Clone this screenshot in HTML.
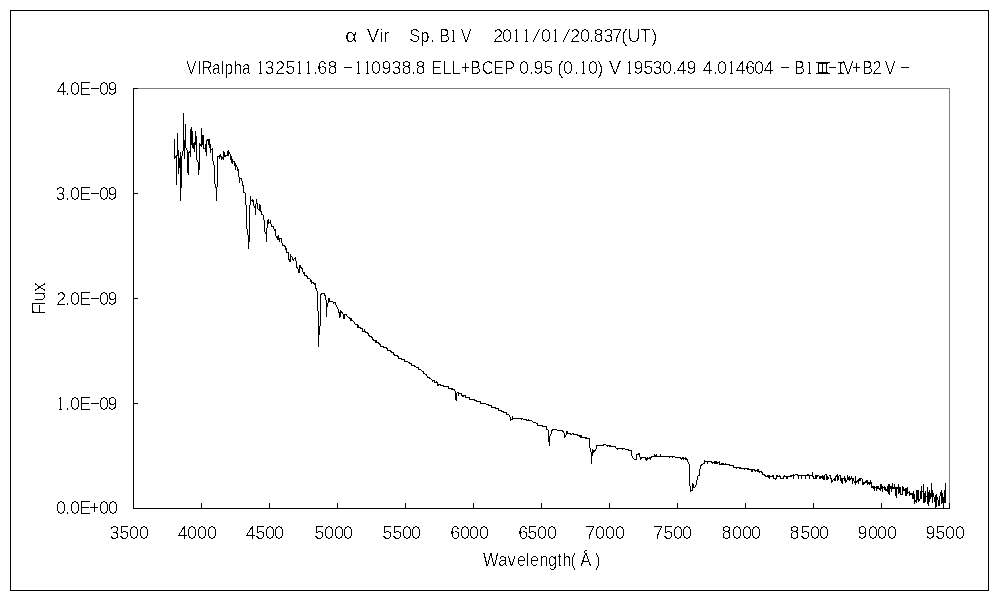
<!DOCTYPE html>
<html lang="ja">
<head>
<meta charset="utf-8">
<title>α Vir Sp. B1V 2011/01/20.837(UT)</title>
<style>
html,body{margin:0;padding:0;background:#fff;}
body{width:1000px;height:600px;overflow:hidden;}
svg{display:block;}
text{font-family:'Liberation Sans', 'Noto Sans CJK JP', sans-serif;font-size:18px;fill:#000;}
</style>
</head>
<body>
<svg width="1000" height="600" viewBox="0 0 1000 600">
<rect x="0" y="0" width="1000" height="600" fill="#fff"/>
<g shape-rendering="crispEdges">
<rect x="10" y="10" width="979" height="1" fill="#000"/>
<rect x="10" y="590" width="979" height="1" fill="#000"/>
<rect x="10" y="10" width="1" height="581" fill="#000"/>
<rect x="988" y="10" width="1" height="581" fill="#000"/>
<rect x="133" y="88" width="817" height="1" fill="#808080"/>
<rect x="949" y="88" width="1" height="421" fill="#808080"/>
<rect x="133" y="88" width="1" height="421" fill="#000"/>
<rect x="133" y="508" width="817" height="1" fill="#000"/>
<rect x="134" y="88" width="4" height="1" fill="#000"/>
<rect x="134" y="193" width="4" height="1" fill="#000"/>
<rect x="134" y="298" width="4" height="1" fill="#000"/>
<rect x="134" y="403" width="4" height="1" fill="#000"/>
<rect x="134" y="508" width="4" height="1" fill="#000"/>
<rect x="133" y="503" width="1" height="5" fill="#000"/>
<rect x="201" y="503" width="1" height="5" fill="#000"/>
<rect x="269" y="503" width="1" height="5" fill="#000"/>
<rect x="337" y="503" width="1" height="5" fill="#000"/>
<rect x="405" y="503" width="1" height="5" fill="#000"/>
<rect x="473" y="503" width="1" height="5" fill="#000"/>
<rect x="541" y="503" width="1" height="5" fill="#000"/>
<rect x="609" y="503" width="1" height="5" fill="#000"/>
<rect x="677" y="503" width="1" height="5" fill="#000"/>
<rect x="745" y="503" width="1" height="5" fill="#000"/>
<rect x="813" y="503" width="1" height="5" fill="#000"/>
<rect x="881" y="503" width="1" height="5" fill="#000"/>
<rect x="949" y="503" width="1" height="5" fill="#000"/>
<path d="M174 139h1v20h-1zM175 156h1v2h-1zM176 155h1v30h-1zM177 133h1v23h-1zM178 150h1v24h-1zM179 158h1v10h-1zM180 152h1v49h-1zM181 156h1v32h-1zM182 151h1v5h-1zM183 113h1v38h-1zM184 140h1v19h-1zM185 124h1v24h-1zM186 148h1v2h-1zM187 150h1v23h-1zM188 152h1v23h-1zM189 151h1v2h-1zM190 129h1v28h-1zM191 127h1v18h-1zM192 131h1v17h-1zM193 143h1v6h-1zM194 142h1v10h-1zM195 131h1v14h-1zM196 136h1v24h-1zM197 160h1v2h-1zM198 162h1v13h-1zM199 143h1v27h-1zM200 144h1v2h-1zM201 128h1v19h-1zM202 135h1v10h-1zM203 135h1v14h-1zM204 148h1v1h-1zM205 144h1v8h-1zM206 140h1v16h-1zM207 139h1v2h-1zM208 139h1v6h-1zM209 139h1v9h-1zM210 144h1v9h-1zM211 149h1v1h-1zM212 148h1v13h-1zM213 161h1v4h-1zM214 165h1v19h-1zM215 184h1v4h-1zM216 187h1v14h-1zM217 156h1v31h-1zM218 156h1v1h-1zM219 155h1v4h-1zM220 154h1v3h-1zM221 156h1v4h-1zM222 157h1v2h-1zM223 151h1v9h-1zM224 152h1v5h-1zM225 155h1v2h-1zM226 155h1v1h-1zM227 151h1v5h-1zM228 150h1v6h-1zM229 152h1v2h-1zM230 154h1v6h-1zM231 156h1v7h-1zM232 159h1v5h-1zM233 161h1v1h-1zM234 161h1v5h-1zM235 163h1v7h-1zM236 165h1v2h-1zM237 167h1v4h-1zM238 169h1v8h-1zM239 177h1v6h-1zM240 178h1v1h-1zM241 178h1v3h-1zM242 181h1v5h-1zM243 185h1v8h-1zM244 192h1v1h-1zM245 193h1v12h-1zM246 205h1v24h-1zM247 229h1v6h-1zM248 235h1v14h-1zM249 205h1v37h-1zM250 196h1v9h-1zM251 200h1v1h-1zM252 199h1v3h-1zM253 200h1v6h-1zM254 206h1v2h-1zM255 204h1v11h-1zM256 199h1v5h-1zM257 203h1v6h-1zM258 209h1v1h-1zM259 204h1v7h-1zM260 205h1v7h-1zM261 211h1v4h-1zM262 214h1v1h-1zM263 215h1v5h-1zM264 220h1v12h-1zM265 232h1v2h-1zM266 228h1v14h-1zM267 220h1v8h-1zM268 219h1v5h-1zM269 222h1v1h-1zM270 220h1v4h-1zM271 224h1v3h-1zM272 226h1v1h-1zM273 226h1v3h-1zM274 229h1v2h-1zM275 229h1v7h-1zM276 236h1v2h-1zM277 236h1v4h-1zM278 235h1v5h-1zM279 238h1v4h-1zM280 238h1v1h-1zM281 238h1v5h-1zM282 243h1v3h-1zM283 245h1v1h-1zM284 245h1v2h-1zM285 246h1v4h-1zM286 248h1v5h-1zM287 252h1v1h-1zM288 252h1v8h-1zM289 259h1v3h-1zM290 254h1v8h-1zM291 256h1v1h-1zM292 257h1v3h-1zM293 259h1v2h-1zM294 258h1v1h-1zM295 257h1v4h-1zM296 261h1v7h-1zM297 267h1v2h-1zM298 269h1v4h-1zM299 265h1v8h-1zM300 265h1v3h-1zM301 267h1v2h-1zM302 268h1v4h-1zM303 272h1v2h-1zM304 272h1v4h-1zM305 275h1v1h-1zM306 275h1v2h-1zM307 276h1v3h-1zM308 278h1v1h-1zM309 278h1v1h-1zM310 279h1v3h-1zM311 280h1v4h-1zM312 282h1v1h-1zM313 282h1v2h-1zM314 283h1v2h-1zM315 283h1v6h-1zM316 288h1v3h-1zM317 291h1v20h-1zM318 311h1v36h-1zM319 326h1v9h-1zM320 294h1v32h-1zM321 293h1v2h-1zM322 293h1v1h-1zM323 293h1v1h-1zM324 293h1v3h-1zM325 295h1v5h-1zM326 300h1v17h-1zM327 303h1v4h-1zM328 298h1v5h-1zM329 298h1v4h-1zM330 301h1v1h-1zM331 301h1v1h-1zM332 301h1v1h-1zM333 302h1v2h-1zM334 302h1v1h-1zM335 302h1v3h-1zM336 305h1v2h-1zM337 307h1v2h-1zM338 309h1v4h-1zM339 312h1v6h-1zM340 310h1v7h-1zM341 311h1v2h-1zM342 312h1v2h-1zM343 314h1v5h-1zM344 314h1v5h-1zM345 314h1v1h-1zM346 314h1v2h-1zM347 316h1v1h-1zM348 317h1v1h-1zM349 317h1v2h-1zM350 318h1v3h-1zM351 318h1v3h-1zM352 320h1v1h-1zM353 321h1v1h-1zM354 322h1v2h-1zM355 324h1v1h-1zM356 324h1v1h-1zM357 324h1v4h-1zM358 325h1v3h-1zM359 327h1v1h-1zM360 327h1v2h-1zM361 328h1v1h-1zM362 328h1v4h-1zM363 331h1v1h-1zM364 329h1v3h-1zM365 331h1v2h-1zM366 332h1v1h-1zM367 332h1v2h-1zM368 333h1v3h-1zM369 335h1v2h-1zM370 336h1v1h-1zM371 336h1v2h-1zM372 337h1v3h-1zM373 339h1v2h-1zM374 340h1v1h-1zM375 340h1v3h-1zM376 340h1v3h-1zM377 342h1v1h-1zM378 342h1v2h-1zM379 343h1v2h-1zM380 344h1v3h-1zM381 346h1v1h-1zM382 346h1v1h-1zM383 346h1v2h-1zM384 347h1v1h-1zM385 347h1v1h-1zM386 347h1v2h-1zM387 348h1v3h-1zM388 350h1v1h-1zM389 350h1v1h-1zM390 350h1v2h-1zM391 351h1v2h-1zM392 352h1v1h-1zM393 352h1v3h-1zM394 354h1v2h-1zM395 355h1v1h-1zM396 355h1v1h-1zM397 355h1v2h-1zM398 356h1v3h-1zM399 358h1v1h-1zM400 358h1v1h-1zM401 358h1v2h-1zM402 359h1v1h-1zM403 359h1v1h-1zM404 359h1v3h-1zM405 361h1v1h-1zM406 361h1v1h-1zM407 361h1v1h-1zM408 362h1v1h-1zM409 362h1v2h-1zM410 363h1v1h-1zM411 363h1v3h-1zM412 365h1v1h-1zM413 365h1v1h-1zM414 365h1v2h-1zM415 366h1v1h-1zM416 367h1v1h-1zM417 367h1v1h-1zM418 367h1v3h-1zM419 369h1v1h-1zM420 369h1v1h-1zM421 370h1v1h-1zM422 371h1v1h-1zM423 371h1v3h-1zM424 373h1v1h-1zM425 374h1v1h-1zM426 374h1v2h-1zM427 376h1v2h-1zM428 377h1v1h-1zM429 377h1v2h-1zM430 378h1v1h-1zM431 379h1v1h-1zM432 380h1v2h-1zM433 380h1v1h-1zM434 380h1v3h-1zM435 382h1v1h-1zM436 381h1v2h-1zM437 382h1v4h-1zM438 384h1v2h-1zM439 384h1v1h-1zM440 384h1v2h-1zM441 385h1v1h-1zM442 385h1v1h-1zM443 385h1v2h-1zM444 386h1v1h-1zM445 386h1v1h-1zM446 386h1v1h-1zM447 386h1v1h-1zM448 386h1v3h-1zM449 388h1v1h-1zM450 388h1v1h-1zM451 388h1v2h-1zM452 388h1v2h-1zM453 389h1v1h-1zM454 389h1v2h-1zM455 391h1v9h-1zM456 393h1v8h-1zM457 392h1v1h-1zM458 392h1v4h-1zM459 393h1v1h-1zM460 393h1v1h-1zM461 393h1v3h-1zM462 395h1v2h-1zM463 395h1v2h-1zM464 395h1v1h-1zM465 395h1v3h-1zM466 397h1v1h-1zM467 397h1v1h-1zM468 397h1v1h-1zM469 397h1v3h-1zM470 399h1v1h-1zM471 399h1v1h-1zM472 399h1v1h-1zM473 399h1v1h-1zM474 399h1v2h-1zM475 400h1v1h-1zM476 400h1v2h-1zM477 401h1v1h-1zM478 401h1v1h-1zM479 401h1v1h-1zM480 401h1v3h-1zM481 403h1v1h-1zM482 403h1v1h-1zM483 403h1v1h-1zM484 403h1v1h-1zM485 403h1v1h-1zM486 404h1v1h-1zM487 404h1v1h-1zM488 404h1v2h-1zM489 405h1v1h-1zM490 405h1v1h-1zM491 405h1v3h-1zM492 407h1v1h-1zM493 407h1v1h-1zM494 407h1v1h-1zM495 407h1v2h-1zM496 408h1v1h-1zM497 408h1v1h-1zM498 408h1v3h-1zM499 410h1v1h-1zM500 410h1v1h-1zM501 410h1v2h-1zM502 411h1v1h-1zM503 411h1v2h-1zM504 412h1v1h-1zM505 412h1v1h-1zM506 412h1v3h-1zM507 414h1v1h-1zM508 414h1v1h-1zM509 415h1v2h-1zM510 417h1v4h-1zM511 419h1v1h-1zM512 416h1v4h-1zM513 418h1v1h-1zM514 418h1v1h-1zM515 418h1v1h-1zM516 418h1v1h-1zM517 418h1v1h-1zM518 418h1v1h-1zM519 418h1v1h-1zM520 418h1v1h-1zM521 418h1v2h-1zM522 418h1v1h-1zM523 419h1v1h-1zM524 419h1v1h-1zM525 419h1v1h-1zM526 419h1v2h-1zM527 420h1v1h-1zM528 419h1v2h-1zM529 420h1v1h-1zM530 420h1v1h-1zM531 420h1v1h-1zM532 421h1v1h-1zM533 422h1v1h-1zM534 422h1v1h-1zM535 422h1v1h-1zM536 423h1v1h-1zM537 423h1v3h-1zM538 425h1v1h-1zM539 425h1v1h-1zM540 425h1v1h-1zM541 425h1v1h-1zM542 425h1v2h-1zM543 426h1v1h-1zM544 426h1v1h-1zM545 426h1v1h-1zM546 426h1v4h-1zM547 429h1v1h-1zM548 430h1v12h-1zM549 436h1v10h-1zM550 434h1v2h-1zM551 430h1v4h-1zM552 429h1v2h-1zM553 429h1v1h-1zM554 429h1v1h-1zM555 429h1v1h-1zM556 429h1v1h-1zM557 430h1v1h-1zM558 430h1v1h-1zM559 430h1v1h-1zM560 430h1v1h-1zM561 430h1v1h-1zM562 430h1v2h-1zM563 431h1v2h-1zM564 433h1v5h-1zM565 435h1v2h-1zM566 431h1v4h-1zM567 431h1v3h-1zM568 433h1v1h-1zM569 433h1v1h-1zM570 433h1v2h-1zM571 434h1v1h-1zM572 433h1v1h-1zM573 433h1v2h-1zM574 434h1v1h-1zM575 434h1v1h-1zM576 434h1v1h-1zM577 434h1v2h-1zM578 435h1v1h-1zM579 435h1v2h-1zM580 435h1v3h-1zM581 435h1v3h-1zM582 437h1v1h-1zM583 437h1v1h-1zM584 437h1v1h-1zM585 437h1v2h-1zM586 437h1v2h-1zM587 438h1v1h-1zM588 438h1v1h-1zM589 438h1v10h-1zM590 448h1v4h-1zM591 452h1v12h-1zM592 449h1v7h-1zM593 450h1v3h-1zM594 450h1v2h-1zM595 449h1v2h-1zM596 445h1v4h-1zM597 445h1v1h-1zM598 445h1v1h-1zM599 445h1v1h-1zM600 445h1v1h-1zM601 445h1v1h-1zM602 445h1v1h-1zM603 444h1v2h-1zM604 444h1v1h-1zM605 444h1v1h-1zM606 445h1v1h-1zM607 445h1v2h-1zM608 445h1v1h-1zM609 445h1v2h-1zM610 445h1v2h-1zM611 446h1v1h-1zM612 446h1v1h-1zM613 446h1v1h-1zM614 446h1v1h-1zM615 446h1v2h-1zM616 448h1v1h-1zM617 448h1v2h-1zM618 448h1v1h-1zM619 448h1v1h-1zM620 448h1v1h-1zM621 448h1v1h-1zM622 448h1v2h-1zM623 448h1v1h-1zM624 448h1v1h-1zM625 449h1v1h-1zM626 449h1v1h-1zM627 449h1v1h-1zM628 449h1v2h-1zM629 450h1v1h-1zM630 450h1v1h-1zM631 450h1v6h-1zM632 456h1v2h-1zM633 458h1v1h-1zM634 459h1v1h-1zM635 459h1v1h-1zM636 454h1v6h-1zM637 454h1v1h-1zM638 453h1v2h-1zM639 453h1v4h-1zM640 457h1v3h-1zM641 457h1v2h-1zM642 457h1v1h-1zM643 457h1v1h-1zM644 457h1v1h-1zM645 457h1v3h-1zM646 458h1v3h-1zM647 457h1v3h-1zM648 458h1v1h-1zM649 457h1v2h-1zM650 457h1v3h-1zM651 456h1v2h-1zM652 456h1v1h-1zM653 456h1v1h-1zM654 454h1v3h-1zM655 455h1v2h-1zM656 454h1v3h-1zM657 456h1v1h-1zM658 456h1v1h-1zM659 456h1v1h-1zM660 454h1v3h-1zM661 456h1v1h-1zM662 456h1v1h-1zM663 456h1v1h-1zM664 456h1v1h-1zM665 456h1v1h-1zM666 456h1v1h-1zM667 456h1v1h-1zM668 456h1v1h-1zM669 456h1v2h-1zM670 456h1v1h-1zM671 456h1v1h-1zM672 456h1v2h-1zM673 456h1v1h-1zM674 456h1v1h-1zM675 457h1v1h-1zM676 457h1v1h-1zM677 457h1v1h-1zM678 457h1v1h-1zM679 457h1v1h-1zM680 457h1v2h-1zM681 458h1v2h-1zM682 457h1v2h-1zM683 457h1v3h-1zM684 458h1v1h-1zM685 457h1v3h-1zM686 458h1v2h-1zM687 459h1v3h-1zM688 462h1v2h-1zM689 464h1v22h-1zM690 486h1v6h-1zM691 490h1v1h-1zM692 483h1v8h-1zM693 484h1v4h-1zM694 487h1v1h-1zM695 485h1v2h-1zM696 480h1v5h-1zM697 476h1v4h-1zM698 475h1v1h-1zM699 469h1v7h-1zM700 465h1v4h-1zM701 464h1v2h-1zM702 464h1v1h-1zM703 463h1v1h-1zM704 460h1v4h-1zM705 461h1v1h-1zM706 461h1v1h-1zM707 461h1v3h-1zM708 461h1v1h-1zM709 461h1v1h-1zM710 461h1v1h-1zM711 461h1v2h-1zM712 462h1v2h-1zM713 462h1v1h-1zM714 461h1v3h-1zM715 461h1v3h-1zM716 461h1v3h-1zM717 462h1v2h-1zM718 462h1v1h-1zM719 461h1v4h-1zM720 464h1v1h-1zM721 463h1v2h-1zM722 463h1v2h-1zM723 463h1v2h-1zM724 464h1v1h-1zM725 463h1v2h-1zM726 464h1v1h-1zM727 464h1v1h-1zM728 464h1v1h-1zM729 464h1v2h-1zM730 465h1v1h-1zM731 465h1v1h-1zM732 465h1v1h-1zM733 465h1v3h-1zM734 467h1v1h-1zM735 467h1v1h-1zM736 467h1v2h-1zM737 467h1v1h-1zM738 467h1v1h-1zM739 467h1v2h-1zM740 467h1v2h-1zM741 468h1v1h-1zM742 468h1v1h-1zM743 468h1v1h-1zM744 468h1v2h-1zM745 468h1v1h-1zM746 468h1v1h-1zM747 468h1v2h-1zM748 468h1v2h-1zM749 469h1v1h-1zM750 469h1v1h-1zM751 469h1v3h-1zM752 469h1v3h-1zM753 469h1v1h-1zM754 469h1v2h-1zM755 470h1v2h-1zM756 470h1v1h-1zM757 469h1v3h-1zM758 469h1v3h-1zM759 471h1v2h-1zM760 471h1v1h-1zM761 471h1v2h-1zM762 472h1v3h-1zM763 474h1v1h-1zM764 474h1v2h-1zM765 475h1v2h-1zM766 476h1v1h-1zM767 475h1v2h-1zM768 475h1v3h-1zM769 475h1v4h-1zM770 476h1v1h-1zM771 476h1v1h-1zM772 475h1v2h-1zM773 475h1v4h-1zM774 478h1v1h-1zM775 478h1v2h-1zM776 475h1v4h-1zM777 475h1v2h-1zM778 476h1v1h-1zM779 475h1v2h-1zM780 476h1v3h-1zM781 478h1v1h-1zM782 478h1v1h-1zM783 476h1v3h-1zM784 475h1v2h-1zM785 476h1v1h-1zM786 476h1v3h-1zM787 476h1v3h-1zM788 476h1v1h-1zM789 476h1v1h-1zM790 475h1v2h-1zM791 475h1v2h-1zM792 475h1v1h-1zM793 474h1v5h-1zM794 475h1v1h-1zM795 474h1v1h-1zM796 474h1v1h-1zM797 474h1v2h-1zM798 475h1v4h-1zM799 475h1v1h-1zM800 475h1v1h-1zM801 475h1v4h-1zM802 475h1v1h-1zM803 475h1v1h-1zM804 475h1v1h-1zM805 475h1v4h-1zM806 475h1v1h-1zM807 474h1v2h-1zM808 474h1v2h-1zM809 475h1v4h-1zM810 475h1v1h-1zM811 475h1v1h-1zM812 472h1v5h-1zM813 476h1v3h-1zM814 478h1v1h-1zM815 475h1v4h-1zM816 475h1v4h-1zM817 475h1v2h-1zM818 475h1v1h-1zM819 476h1v3h-1zM820 476h1v3h-1zM821 476h1v2h-1zM822 475h1v4h-1zM823 476h1v4h-1zM824 475h1v5h-1zM825 474h1v1h-1zM826 474h1v6h-1zM827 476h1v4h-1zM828 477h1v2h-1zM829 475h1v1h-1zM830 475h1v4h-1zM831 478h1v5h-1zM832 480h1v2h-1zM833 479h1v1h-1zM834 478h1v3h-1zM835 476h1v5h-1zM836 475h1v2h-1zM837 474h1v7h-1zM838 476h1v4h-1zM839 475h1v1h-1zM840 475h1v6h-1zM841 478h1v5h-1zM842 478h1v6h-1zM843 478h1v1h-1zM844 476h1v5h-1zM845 478h1v5h-1zM846 480h1v2h-1zM847 475h1v5h-1zM848 477h1v3h-1zM849 476h1v5h-1zM850 478h1v2h-1zM851 476h1v3h-1zM852 478h1v6h-1zM853 478h1v3h-1zM854 481h1v2h-1zM855 476h1v9h-1zM856 481h1v2h-1zM857 480h1v2h-1zM858 479h1v5h-1zM859 478h1v3h-1zM860 478h1v3h-1zM861 478h1v1h-1zM862 479h1v6h-1zM863 482h1v3h-1zM864 482h1v2h-1zM865 481h1v2h-1zM866 480h1v3h-1zM867 480h1v5h-1zM868 482h1v2h-1zM869 482h1v3h-1zM870 480h1v4h-1zM871 482h1v6h-1zM872 486h1v2h-1zM873 486h1v3h-1zM874 486h1v5h-1zM875 487h1v1h-1zM876 486h1v5h-1zM877 486h1v3h-1zM878 486h1v3h-1zM879 488h1v2h-1zM880 484h1v7h-1zM881 484h1v5h-1zM882 486h1v6h-1zM883 487h1v1h-1zM884 486h1v4h-1zM885 487h1v4h-1zM886 489h1v2h-1zM887 486h1v6h-1zM888 484h1v10h-1zM889 484h1v11h-1zM890 486h1v3h-1zM891 486h1v6h-1zM892 483h1v6h-1zM893 487h1v2h-1zM894 484h1v5h-1zM895 487h1v9h-1zM896 487h1v11h-1zM897 487h1v2h-1zM898 484h1v10h-1zM899 487h1v6h-1zM900 487h1v8h-1zM901 494h1v1h-1zM902 486h1v9h-1zM903 487h1v4h-1zM904 489h1v2h-1zM905 488h1v8h-1zM906 488h1v8h-1zM907 487h1v7h-1zM908 492h1v1h-1zM909 491h1v5h-1zM910 493h1v2h-1zM911 493h1v2h-1zM912 493h1v6h-1zM913 491h1v8h-1zM914 494h1v10h-1zM915 500h1v2h-1zM916 490h1v13h-1zM917 490h1v10h-1zM918 490h1v12h-1zM919 499h1v2h-1zM920 491h1v8h-1zM921 486h1v13h-1zM922 491h1v1h-1zM923 484h1v19h-1zM924 493h1v10h-1zM925 491h1v11h-1zM926 496h1v1h-1zM927 487h1v17h-1zM928 492h1v14h-1zM929 490h1v12h-1zM930 493h1v6h-1zM931 483h1v14h-1zM932 490h1v13h-1zM933 493h1v4h-1zM934 497h1v5h-1zM935 495h1v13h-1zM936 494h1v13h-1zM937 497h1v3h-1zM938 500h1v6h-1zM939 496h1v10h-1zM940 492h1v4h-1zM941 490h1v14h-1zM942 493h1v10h-1zM943 497h1v11h-1zM944 490h1v13h-1zM945 483h1v20h-1z" fill="#000"/>
</g>
<defs><filter id="bin" x="0" y="0" width="1000" height="600" filterUnits="userSpaceOnUse" color-interpolation-filters="sRGB"><feColorMatrix type="matrix" values="0 0 0 0 0  0 0 0 0 0  0 0 0 0 0  -1 0 0 0 1"/><feComponentTransfer><feFuncA type="discrete" tableValues="0 0 0 0 0 0 0 0 0 0 0 0 0 1 1 1 1 1 1 1"/></feComponentTransfer></filter><filter id="bin2" x="0" y="0" width="1000" height="600" filterUnits="userSpaceOnUse" color-interpolation-filters="sRGB"><feColorMatrix type="matrix" values="0 0 0 0 0  0 0 0 0 0  0 0 0 0 0  -1 0 0 0 1"/><feComponentTransfer><feFuncA type="discrete" tableValues="0 0 0 0 0 0 0 0 0 0 0 0 0 1 1 1 1 1 1 1"/></feComponentTransfer></filter></defs>
<g filter="url(#bin)">
<rect x="0" y="0" width="1000" height="600" fill="#fff"/>
<text transform="scale(1.2 1)" x="287.5" y="42">α</text>
<text x="367 379.25 383.25" y="42">Vir</text>
<text transform="scale(0.92 1)" x="444.837 456.793 467.391" y="42">Sp.</text>
<text transform="scale(0.9 1)"><tspan x="488.056" y="42">B</tspan><tspan style="font-family:'Liberation Serif', serif" x="499.444" y="42">1</tspan><tspan x="511.944" y="42">V</tspan></text>
<text><tspan x="493.25 502" y="42">20</tspan><tspan style="font-family:'Liberation Serif', serif" x="511.75 521.75" y="42">11</tspan><tspan style="font-family:'Liberation Serif', serif" textLength="8.002" lengthAdjust="spacingAndGlyphs" x="532.25" y="42">/</tspan><tspan x="541" y="42">0</tspan><tspan style="font-family:'Liberation Serif', serif" x="550.75" y="42">1</tspan><tspan style="font-family:'Liberation Serif', serif" textLength="8.002" lengthAdjust="spacingAndGlyphs" x="562.25" y="42">/</tspan><tspan x="570.25 580 589 593.5 603.5 612.25 621.25 627.5 640 651.25" y="42">20.837(UT)</tspan></text>
<text transform="scale(0.85 1)" x="219.118 231.765 237.059 249.412 260 264.118 274.706 284.706" y="74">VIRalpha</text>
<text><tspan style="font-family:'Liberation Serif', serif" x="255.75" y="74">1</tspan><tspan x="264.5 275.25 285.25" y="74">325</tspan><tspan style="font-family:'Liberation Serif', serif" x="294.75 303.75" y="74">11</tspan><tspan x="313 317.25 327.5" y="74">.68</tspan></text>
<text><tspan textLength="11.689" lengthAdjust="spacingAndGlyphs" x="342" y="73">-</tspan><tspan style="font-family:'Liberation Serif', serif" x="353.75 362.75" y="74">11</tspan><tspan x="371 381.5 391.5 401.5 411 415.5" y="74">0938.8</tspan></text>
<text transform="scale(0.9 1)" x="479.167 491.389 501.389 512.222 522.5 535.556 548.056 560.278" y="74">ELL+BCEP</text>
<text x="519 529 533.5 543.25" y="74">0.95</text>
<text><tspan x="557.25 563 574" y="74">(0.</tspan><tspan style="font-family:'Liberation Serif', serif" x="578.75" y="74">1</tspan><tspan x="588 597.25" y="74">0)</tspan></text>
<text x="609" y="74">V</text>
<text><tspan style="font-family:'Liberation Serif', serif" x="624.75" y="74">1</tspan><tspan x="633.5 643.25 652.5 662 672 676.75 686.5" y="74">9530.49</tspan></text>
<text><tspan x="702.75 713 717" y="74">4.0</tspan><tspan style="font-family:'Liberation Serif', serif" x="726.75" y="74">1</tspan><tspan x="735.75 745.25 754 763.75" y="74">4604</tspan></text>
<text><tspan textLength="11.689" lengthAdjust="spacingAndGlyphs" x="779" y="73">-</tspan></text>
<text transform="scale(0.9 1)"><tspan x="882.5" y="74">B</tspan><tspan style="font-family:'Liberation Serif', serif" x="895" y="74">1</tspan><tspan style="font-family:'Liberation Mono', monospace" x="904.444 908.889 913.333" y="74">III</tspan><tspan textLength="11.689" lengthAdjust="spacingAndGlyphs" x="918.889" y="73">-</tspan><tspan style="font-family:'Liberation Mono', monospace" x="928.889" y="74">I</tspan><tspan x="936.389 946.667 958.056 969.444 983.056" y="74">V+B2V</tspan></text>
<text><tspan textLength="11.689" lengthAdjust="spacingAndGlyphs" x="899" y="73">-</tspan></text>
<text><tspan x="56.75 65 70 79" y="95">4.0E</tspan><tspan textLength="11.689" lengthAdjust="spacingAndGlyphs" x="89" y="94">-</tspan><tspan x="99 107.5" y="95">09</tspan></text>
<text><tspan x="55.5 65 70 79" y="200">3.0E</tspan><tspan textLength="11.689" lengthAdjust="spacingAndGlyphs" x="89" y="199">-</tspan><tspan x="99 107.5" y="200">09</tspan></text>
<text><tspan x="56.25 65 70 79" y="305">2.0E</tspan><tspan textLength="11.689" lengthAdjust="spacingAndGlyphs" x="89" y="304">-</tspan><tspan x="99 107.5" y="305">09</tspan></text>
<text><tspan style="font-family:'Liberation Serif', serif" x="55.75" y="410">1</tspan><tspan x="65 70 79" y="410">.0E</tspan><tspan textLength="11.689" lengthAdjust="spacingAndGlyphs" x="89" y="409">-</tspan><tspan x="99 107.5" y="410">09</tspan></text>
<text x="56 65 70 79 89 99 108" y="514">0.0E+00</text>
<text x="109.5 119.25 129 139" y="539">3500</text>
<text x="177.75 187 197 207" y="539">4000</text>
<text x="245.75 255.25 265 274" y="539">4500</text>
<text x="314.25 324 334 343" y="539">5000</text>
<text x="382.25 392.25 402 411" y="539">5500</text>
<text x="450.25 460 469 479" y="539">6000</text>
<text x="518.25 527.25 537 547" y="539">6500</text>
<text x="585.25 595 605 615" y="539">7000</text>
<text x="653.25 663.25 673 682" y="539">7500</text>
<text x="721.5 732 742 751" y="539">8000</text>
<text x="789.5 800.25 810 819" y="539">8500</text>
<text x="857.5 868 877 887" y="539">9000</text>
<text x="925.5 935.25 945 955" y="539">9500</text>
<text transform="scale(0.92 1)" x="525 541.576 551.63 561.685 571.739 575.815 586.141 595.652 605.707 611.141 620.109 630.707 646.739" y="566">Wavelength(Å)</text>
</g>
<g filter="url(#bin2)">
<rect x="0" y="0" width="1000" height="600" fill="#fff"/>
<text transform="translate(45 314.8) rotate(-90)" x="0 9 13.6 23.2" y="0">Flux</text>
</g>
</svg>
</body>
</html>
